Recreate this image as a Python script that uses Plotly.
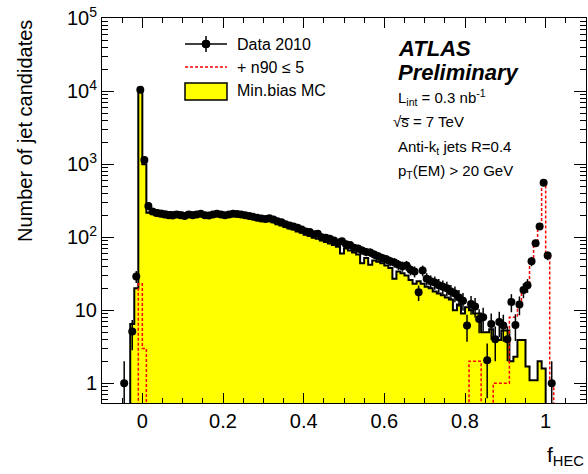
import numpy as np
import plotly.graph_objects as go

# ---------------- data ----------------
# Data 2010: bin centres (bin width 0.01) and counts
data_x = [-0.045, -0.025, -0.015, -0.005, 0.005, 0.015,
          0.025, 0.035, 0.045, 0.055, 0.065, 0.075, 0.085, 0.095, 0.105, 0.115,
          0.125, 0.135, 0.145, 0.155, 0.165, 0.175, 0.185, 0.195, 0.205, 0.215,
          0.225, 0.235, 0.245, 0.255, 0.265, 0.275, 0.285, 0.295, 0.305, 0.315,
          0.325, 0.335, 0.345, 0.355, 0.365, 0.375, 0.385, 0.395, 0.405, 0.415,
          0.425, 0.435, 0.445, 0.455, 0.465, 0.475, 0.485, 0.495, 0.505, 0.515,
          0.525, 0.535, 0.545, 0.555, 0.565, 0.575, 0.585, 0.595, 0.605, 0.615,
          0.625, 0.635, 0.645, 0.655, 0.665, 0.675, 0.685, 0.695, 0.705, 0.715,
          0.725, 0.735, 0.745, 0.755, 0.765, 0.775, 0.785, 0.795, 0.805, 0.815,
          0.825, 0.835, 0.845, 0.855, 0.865, 0.875, 0.885, 0.895, 0.905, 0.915,
          0.925, 0.935, 0.945, 0.955, 0.965, 0.975, 0.985, 0.995, 1.005, 1.015]
data_y = [1, 5.1, 29, 10500, 1140, 268,
          225, 215, 210, 205, 200, 198, 205, 200, 195, 205,
          200, 205, 210, 200, 198, 205, 210, 205, 200, 205,
          210, 208, 205, 200, 195, 190, 185, 180, 178, 182,
          175, 165, 160, 150, 145, 140, 135, 128, 120, 118,
          110, 112, 100, 98, 95, 90, 85, 88, 80, 78,
          72, 70, 66, 63, 62, 58, 55, 52, 50, 47,
          45, 42, 40, 41, 36, 34, 17.6, 35, 27, 25,
          24, 22, 21, 20, 18, 17, 15, 13.5, 6.2, 12.2,
          11.3, 7.6, 8, 2.06, 6.5, 4, 6.9, 6.2, 4, 13,
          6.3, 12, 19, 22, 47, 83, 140, 557, 56, 1]

# Min.bias MC: lower bin edges and contents
mc_lo = [-0.03, -0.02, -0.01, 0.00, 0.01,
         0.02, 0.03, 0.04, 0.05, 0.06, 0.07, 0.08, 0.09, 0.10, 0.11,
         0.12, 0.13, 0.14, 0.15, 0.16, 0.17, 0.18, 0.19, 0.20, 0.21,
         0.22, 0.23, 0.24, 0.25, 0.26, 0.27, 0.28, 0.29, 0.30, 0.31,
         0.32, 0.33, 0.34, 0.35, 0.36, 0.37, 0.38, 0.39, 0.40, 0.41,
         0.42, 0.43, 0.44, 0.45, 0.46, 0.47, 0.48, 0.49, 0.50, 0.51,
         0.52, 0.53, 0.54, 0.55, 0.56, 0.57, 0.58, 0.59, 0.60, 0.61,
         0.62, 0.63, 0.64, 0.65, 0.66, 0.67, 0.68, 0.69, 0.70, 0.71,
         0.72, 0.73, 0.74, 0.75, 0.76, 0.77, 0.78, 0.79, 0.80, 0.81,
         0.82, 0.83, 0.84, 0.85, 0.86, 0.87, 0.88, 0.89, 0.90, 0.91,
         0.92, 0.93, 0.94, 0.95, 0.96, 0.97, 0.98, 0.99]
mc_val = [6.5, 20, 10500, 1000, 217,
          240, 235, 230, 225, 222, 220, 222, 218, 215, 220,
          218, 215, 220, 215, 212, 215, 212, 210, 205, 208,
          205, 200, 198, 195, 190, 185, 178, 172, 168, 165,
          160, 150, 145, 138, 132, 128, 120, 115, 108, 104,
          98, 95, 90, 86, 82, 78, 74, 60, 70, 66,
          62, 58, 44, 52, 42, 48, 46, 44, 41, 38,
          27, 34, 32, 30, 26, 23, 25, 23, 21, 20,
          18, 17, 16, 15, 14, 10, 12, 9, 11, 10,
          9, 9, 5, 5, 5.5, 3.9, 3.9, 5.3, 5.3, 2,
          2.3, 3.9, 3.9, 1.7, 1.1, 1.1, 2, 1.6]

# + n90 <= 5 : lower bin edges and contents
n90_lo = [-0.01, 0.00, 0.81, 0.82, 0.83, 0.87, 0.88, 0.89, 0.90, 0.91, 0.92,
          0.93, 0.94, 0.95, 0.96, 0.97, 0.98, 0.99, 1.00, 1.01]
n90_val = [23, 3, 2, 2, 2, 1, 1, 1, 1, 8, 8,
           12, 19, 22, 47, 83, 140, 557, 56, 1]

x_ticks = [0, 0.2, 0.4, 0.6, 0.8, 1.0]
x_ticktext = ["0", "0.2", "0.4", "0.6", "0.8", "1"]
y_ticks = [1, 10, 100, 1000, 10000, 100000]
y_ticktext = ["1", "10", "10<sup>2</sup>", "10<sup>3</sup>", "10<sup>4</sup>", "10<sup>5</sup>"]

# ---------------- helpers ----------------
BW = 0.01
XMIN, XMAX = -0.1, 1.1
FLOOR = 1e-2  # empty bins drawn below the visible log range


def step_xy(lo, val):
    n = int(round((XMAX - XMIN) / BW))
    edges = [round(XMIN + i * BW, 4) for i in range(n + 1)]
    content = [FLOOR] * n
    for l, v in zip(lo, val):
        idx = int(round((l - XMIN) / BW))
        content[idx] = v
    xs = edges
    ys = content + [content[-1]]
    return xs, ys


FONT = "Arial, Liberation Sans, Helvetica, sans-serif"

fig = go.Figure()

mx, my = step_xy(mc_lo, mc_val)
fig.add_trace(go.Scatter(x=mx, y=my, mode="lines", line=dict(shape="hv", color="black", width=2),
                         fill="toself", fillcolor="#ffff00", hoverinfo="skip"))

rx, ry = step_xy(n90_lo, n90_val)
fig.add_trace(go.Scatter(x=rx, y=ry, mode="lines",
                         line=dict(shape="hv", color="#ff0000", width=1.5, dash="3px,2px"),
                         hoverinfo="skip"))

err = list(np.sqrt(np.array(data_y, dtype=float)))
fig.add_trace(go.Scatter(x=data_x, y=data_y, mode="markers",
                         marker=dict(color="black", size=8, symbol="circle"),
                         error_y=dict(type="data", array=err, visible=True, color="black", thickness=1.5, width=0),
                         error_x=dict(type="constant", value=BW / 2, visible=True, color="black", thickness=1.5, width=0)))

# ---------------- layout geometry ----------------
L, R, T, B = 102, 586, 18, 403
W, H = 588, 474


def px(x):
    return (x - L) / (R - L)


def py(y):
    return (B - y) / (B - T)


x_minor = [-0.05] + [round(0.05 * k, 2) for k in range(1, 22) if k % 4 != 0]
y_minor = [m * 10 ** e for e in range(-1, 5) for m in range(2, 10) if 0.5 < m * 10 ** e < 1e5]

fig.update_layout(
    width=W, height=H,
    margin=dict(l=L, r=W - R, t=T, b=H - B),
    paper_bgcolor="white", plot_bgcolor="white",
    showlegend=False,
    font=dict(family=FONT, color="black"),
    xaxis=dict(range=[XMIN, XMAX], tickvals=x_ticks, ticktext=x_ticktext,
               ticks="inside", ticklen=10, tickwidth=1, tickcolor="black",
               mirror="allticks", showline=True, linecolor="black", linewidth=1,
               showgrid=False, zeroline=False, tickfont=dict(size=20, family=FONT),
               minor=dict(tickvals=x_minor, ticks="inside", ticklen=5, tickcolor="black", tickwidth=1)),
    yaxis=dict(type="log", range=[-0.27, 5.002], tickvals=y_ticks, ticktext=y_ticktext,
               ticks="inside", ticklen=12, tickwidth=1, tickcolor="black",
               mirror="allticks", showline=True, linecolor="black", linewidth=1,
               showgrid=False, zeroline=False, tickfont=dict(size=20, family=FONT),
               minor=dict(tickvals=y_minor, ticks="inside", ticklen=6, tickcolor="black", tickwidth=1)),
)

shapes = []
# legend: data
shapes.append(dict(type="line", xref="paper", yref="paper", x0=px(185), x1=px(227), y0=py(44), y1=py(44),
                   line=dict(color="black", width=1.5)))
shapes.append(dict(type="line", xref="paper", yref="paper", x0=px(206), x1=px(206), y0=py(36), y1=py(52),
                   line=dict(color="black", width=1.5)))
shapes.append(dict(type="circle", xref="paper", yref="paper", x0=px(202), x1=px(210), y0=py(48), y1=py(40),
                   fillcolor="black", line=dict(color="black", width=1)))
# legend: n90
shapes.append(dict(type="line", xref="paper", yref="paper", x0=px(185), x1=px(227), y0=py(67), y1=py(67),
                   line=dict(color="#ff0000", width=1.5, dash="3px,2px")))
# legend: MC
shapes.append(dict(type="rect", xref="paper", yref="paper", x0=px(185), x1=px(227), y0=py(100), y1=py(83),
                   fillcolor="#ffff00", line=dict(color="black", width=1.5)))
fig.update_layout(shapes=shapes)

ann = []


def text(x, y, s, size, xanchor="left", yanchor="middle", **kw):
    ann.append(dict(xref="paper", yref="paper", x=px(x), y=py(y), text=s, showarrow=False,
                    xanchor=xanchor, yanchor=yanchor, font=dict(size=size, family=FONT, color="black"), **kw))


text(235, 44, "Data 2010", 16)
text(235, 67, "+ n90 \u2264 5", 16)
text(235, 91, "Min.bias MC", 16)
text(396, 48, "<b><i>ATLAS</i></b>", 22)
text(396, 72, "<b><i>Preliminary</i></b>", 22)
text(396, 98, "L<sub>int</sub> = 0.3 nb<sup>-1</sup>", 15)
text(391, 122, "\u221as\u0305 = 7 TeV", 15)
text(396, 147, "Anti-k<sub>t</sub> jets R=0.4", 15)
text(396, 171, "p<sub>T</sub>(EM) &gt; 20 GeV", 15)
text(586, 456, "f<sub>HEC</sub>", 21, xanchor="right")
text(25, 18, "Number of jet candidates", 20, xanchor="center", yanchor="top", textangle=-90)
fig.update_layout(annotations=ann)

fig.write_html("out.html")
